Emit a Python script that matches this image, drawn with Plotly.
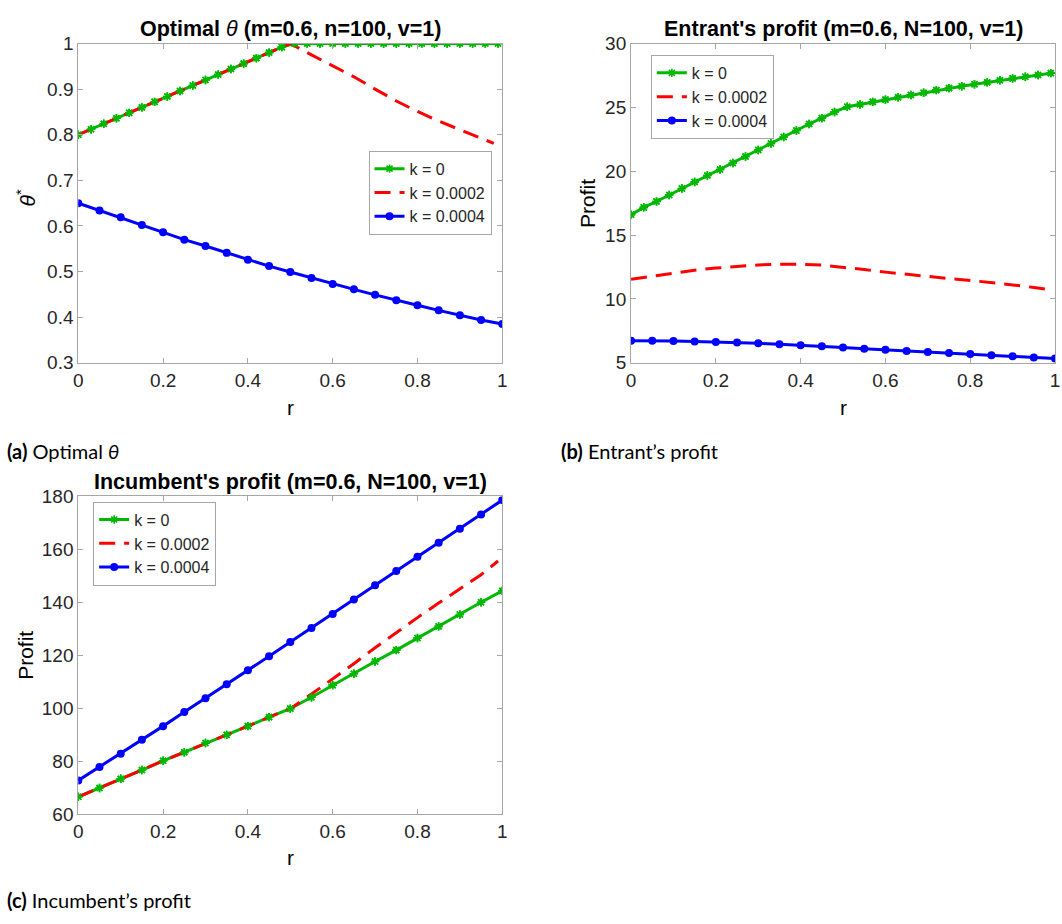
import plotly.graph_objects as go

# ---- data -----------------------------------------------------------------
# fine grid (step 0.03) used for the k = 0 curves in panels (a) and (b)
r_fine = [0.00, 0.03, 0.06, 0.09, 0.12, 0.15, 0.18, 0.21, 0.24, 0.27, 0.30, 0.33,
          0.36, 0.39, 0.42, 0.45, 0.48, 0.51, 0.54, 0.57, 0.60, 0.63, 0.66, 0.69,
          0.72, 0.75, 0.78, 0.81, 0.84, 0.87, 0.90, 0.93, 0.96, 0.99]
# coarse grid (step 0.05)
r_coarse = [0.00, 0.05, 0.10, 0.15, 0.20, 0.25, 0.30, 0.35, 0.40, 0.45, 0.50,
            0.55, 0.60, 0.65, 0.70, 0.75, 0.80, 0.85, 0.90, 0.95, 1.00]
# grid of the k = 0.0002 curves
r_red_a = [0.00, 0.05, 0.10, 0.15, 0.20, 0.25, 0.30, 0.35, 0.40, 0.45, 0.50,
           0.55, 0.60, 0.65, 0.70, 0.75, 0.80, 0.85, 0.90, 0.95, 0.98]
r_red = [0.00, 0.05, 0.10, 0.15, 0.20, 0.25, 0.30, 0.35, 0.40, 0.45, 0.50,
         0.55, 0.60, 0.65, 0.70, 0.75, 0.80, 0.85, 0.90, 0.95, 0.99]

# (a) optimal theta
theta_k0 = [0.800, 0.812, 0.824, 0.836, 0.848, 0.860, 0.872, 0.884, 0.896, 0.908,
            0.920, 0.932, 0.944, 0.956, 0.968, 0.980, 0.992, 1.000, 1.000, 1.000,
            1.000, 1.000, 1.000, 1.000, 1.000, 1.000, 1.000, 1.000, 1.000, 1.000,
            1.000, 1.000, 1.000, 1.000]
theta_k2 = [0.800, 0.820, 0.840, 0.860, 0.880, 0.900, 0.920, 0.940, 0.960, 0.980,
            1.000, 0.975, 0.951, 0.927, 0.900, 0.874, 0.851, 0.830, 0.811, 0.793,
            0.781]
theta_k4 = [0.650, 0.634, 0.619, 0.602, 0.586, 0.570, 0.556, 0.541, 0.526, 0.512,
            0.499, 0.486, 0.473, 0.461, 0.449, 0.437, 0.426, 0.415, 0.404, 0.394,
            0.385]

# (b) entrant's profit
ent_k0 = [16.60, 17.17, 17.63, 18.14, 18.65, 19.16, 19.67, 20.13, 20.64, 21.15,
          21.66, 22.17, 22.68, 23.19, 23.70, 24.16, 24.64, 25.05, 25.23, 25.43,
          25.61, 25.79, 25.97, 26.15, 26.35, 26.51, 26.66, 26.81, 26.96, 27.12,
          27.27, 27.40, 27.53, 27.68]
ent_k2 = [11.55, 11.80, 12.05, 12.25, 12.42, 12.56, 12.66, 12.72, 12.72, 12.65,
          12.50, 12.30, 12.10, 11.92, 11.75, 11.60, 11.45, 11.30, 11.10, 10.90,
          10.72]
ent_k4 = [6.73, 6.73, 6.71, 6.66, 6.63, 6.58, 6.53, 6.45, 6.38, 6.30, 6.20,
          6.10, 6.02, 5.92, 5.84, 5.77, 5.69, 5.59, 5.51, 5.41, 5.33]

# (c) incumbent's profit
inc_k0 = [66.5, 69.8, 73.3, 76.6, 80.1, 83.3, 86.8, 89.9, 93.2, 96.6, 99.8,
          104.1, 108.7, 113.0, 117.6, 121.9, 126.5, 130.9, 135.4, 140.0, 144.3]
inc_k2 = [66.5, 69.8, 73.3, 76.6, 80.1, 83.3, 86.8, 89.9, 93.2, 96.6, 99.8,
          105.3, 111.0, 116.8, 122.8, 128.6, 134.2, 139.7, 145.1, 150.4, 155.6]
inc_k4 = [72.7, 77.8, 82.8, 88.1, 93.2, 98.5, 103.7, 109.0, 114.3, 119.6, 125.0,
          130.3, 135.6, 141.0, 146.4, 151.8, 157.2, 162.5, 167.8, 173.2, 178.6]

x_ticks = [0, 0.2, 0.4, 0.6, 0.8, 1]
x_ticktext = ["0", "0.2", "0.4", "0.6", "0.8", "1"]
theta_ticks = [0.3, 0.4, 0.5, 0.6, 0.7, 0.8, 0.9, 1]
theta_ticktext = ["0.3", "0.4", "0.5", "0.6", "0.7", "0.8", "0.9", "1"]
ent_ticks = [5, 10, 15, 20, 25, 30]
inc_ticks = [60, 80, 100, 120, 140, 160, 180]

legend_names = ["k = 0", "k = 0.0002", "k = 0.0004"]

# ---- styling --------------------------------------------------------------
W, H = 1062, 924
GREEN, RED, BLUE = "#00b800", "#ff0000", "#0000ff"
AX_FONT = "Liberation Sans, Arial, Helvetica, sans-serif"
TXT = "#262626"
FRAME = "#a6a6a6"
LW = 3


def px_x(v):
    return v / W


def px_y(v):
    return 1 - v / H


fig = go.Figure()

green_marker = dict(symbol="asterisk-open", size=7, color=GREEN,
                    line=dict(color=GREEN, width=1.6))


def add_panel(idx, r0, y0, r2, y2, r4, y4, legend_id):
    xa = "x" if idx == 1 else f"x{idx}"
    ya = "y" if idx == 1 else f"y{idx}"
    fig.add_trace(go.Scatter(
        x=r0, y=y0, name=legend_names[0], xaxis=xa, yaxis=ya, legend=legend_id,
        mode="lines+markers", line=dict(color=GREEN, width=LW),
        marker=green_marker))
    fig.add_trace(go.Scatter(
        x=r2, y=y2, name=legend_names[1], xaxis=xa, yaxis=ya, legend=legend_id,
        mode="lines", line=dict(color=RED, width=LW, dash="16px,9px")))
    # k = 0 markers repeated above the dashed curve where the two overlap
    fig.add_trace(go.Scatter(
        x=r0, y=y0, xaxis=xa, yaxis=ya, showlegend=False, hoverinfo="skip",
        mode="markers", marker=green_marker))
    fig.add_trace(go.Scatter(
        x=r4, y=y4, name=legend_names[2], xaxis=xa, yaxis=ya, legend=legend_id,
        mode="lines+markers", line=dict(color=BLUE, width=LW),
        marker=dict(symbol="circle", size=8, color=BLUE)))


add_panel(1, r_fine, theta_k0, r_red_a, theta_k2, r_coarse, theta_k4, "legend")
add_panel(2, r_fine, ent_k0, r_red, ent_k2, r_coarse, ent_k4, "legend2")
add_panel(3, r_coarse, inc_k0, r_red, inc_k2, r_coarse, inc_k4, "legend3")

axis_common = dict(
    showline=True, linecolor=FRAME, linewidth=1, mirror="ticks",
    ticks="inside", ticklen=5, tickcolor=FRAME, tickwidth=1,
    showgrid=False, zeroline=False,
    tickfont=dict(family=AX_FONT, size=19, color=TXT),
)

# panel geometry in pixels: (left, right, top, bottom)
geo = {1: (74, 502, 34.3, 361), 2: (632, 1060, 34.3, 361), 3: (74, 502, 497.7, 822.7)}
yinfo = {1: ([0.3, 1], theta_ticks, theta_ticktext),
         2: ([5, 30], ent_ticks, [str(t) for t in ent_ticks]),
         3: ([60, 180], inc_ticks, [str(t) for t in inc_ticks])}

layout = {}
for i in (1, 2, 3):
    l, r, t, b = geo[i]
    xk = "xaxis" if i == 1 else f"xaxis{i}"
    yk = "yaxis" if i == 1 else f"yaxis{i}"
    yref = "y" if i == 1 else f"y{i}"
    xref = "x" if i == 1 else f"x{i}"
    layout[xk] = dict(axis_common, domain=[px_x(l), px_x(r)], range=[0, 1],
                      tickvals=x_ticks, ticktext=x_ticktext, anchor=yref)
    rng, tv, tt = yinfo[i]
    layout[yk] = dict(axis_common, domain=[px_y(b), px_y(t)], range=rng,
                      tickvals=tv, ticktext=tt, anchor=xref)

legend_common = dict(
    bgcolor="white", bordercolor=FRAME, borderwidth=1,
    font=dict(family=AX_FONT, size=16, color=TXT),
    xanchor="left", yanchor="top", itemwidth=30, tracegroupgap=0,
)
layout["legend"] = dict(legend_common, x=px_x(367), y=px_y(144))
layout["legend2"] = dict(legend_common, x=px_x(652), y=px_y(46))
layout["legend3"] = dict(legend_common, x=px_x(89), y=px_y(503))

fig.update_layout(
    width=W, height=H, margin=dict(l=0, r=0, t=0, b=0),
    paper_bgcolor="white", plot_bgcolor="white", **layout,
)


def note(text, x, y, size, angle=0, family=AX_FONT, xanchor="center"):
    fig.add_annotation(text=text, x=px_x(x), y=px_y(y), xref="paper", yref="paper",
                       showarrow=False, textangle=angle, xanchor=xanchor,
                       yanchor="middle",
                       font=dict(family=family, size=size, color="black"))


# panel titles
note("<b>Optimal </b><i>θ</i><b> (m=0.6, n=100, v=1)</b>", 288, 19, 21.5)
note("<b>Entrant's profit (m=0.6, N=100, v=1)</b>", 846, 19, 21.5)
note("<b>Incumbent's profit (m=0.6, N=100, v=1)</b>", 288, 483, 21.5)

# axis labels
note("r", 288, 407, 21)
note("r", 846, 407, 21)
note("r", 288, 867, 21)
note("<i>θ</i><sup>*</sup>", 21, 192, 21, angle=-90)
note("Profit", 588, 198, 21, angle=-90)
note("Profit", 20, 660, 21, angle=-90)

# sub-figure captions
CAP = "Lato, Noto Sans, sans-serif"
note("<b>(a)</b> Optimal <i>θ</i>", 0, 451, 20, family=CAP, xanchor="left")
note("<b>(b)</b> Entrant’s profit", 559, 451, 20, family=CAP, xanchor="left")
note("<b>(c)</b> Incumbent’s profit", 0, 911, 20, family=CAP, xanchor="left")

fig.write_html("out.html")
